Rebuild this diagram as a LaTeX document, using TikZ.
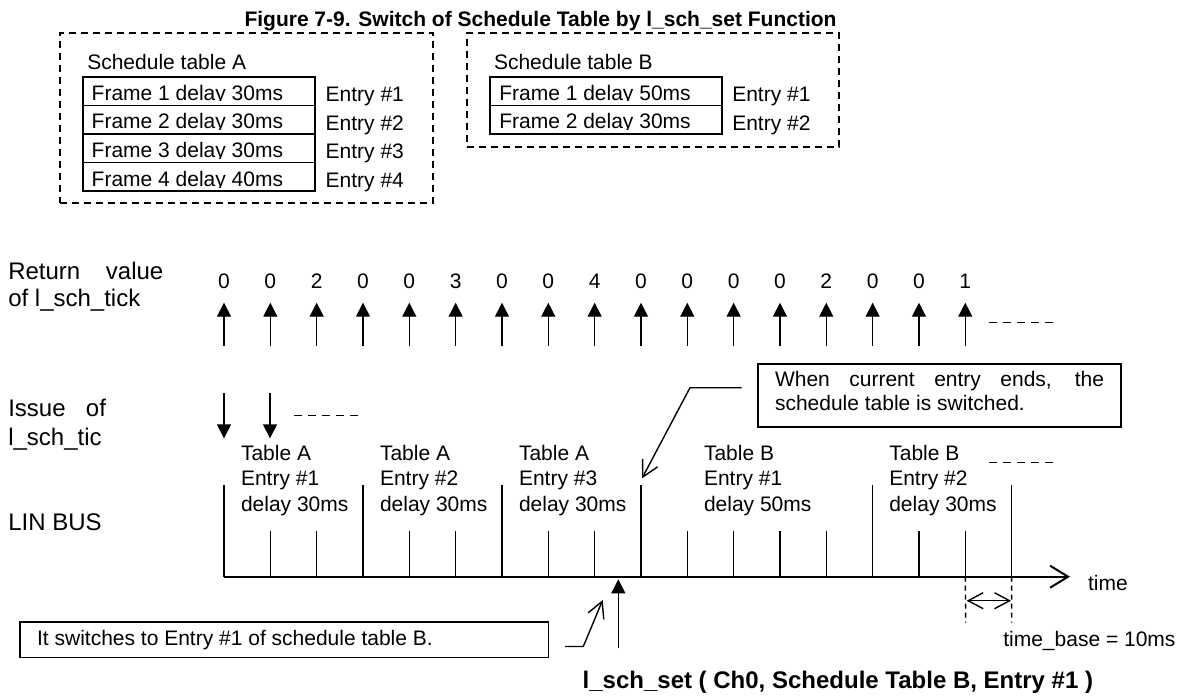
\documentclass[tikz,border=0pt]{standalone}
\usepackage{fontspec}
\setmainfont{Liberation Sans}
\usetikzlibrary{arrows.meta}
\begin{document}
\begin{tikzpicture}[x=1pt,y=-1pt,
  every node/.style={inner sep=0pt, outer sep=0pt},
  txt/.style={anchor=base west, font=\fontsize{21}{25}\selectfont},
  lbl/.style={anchor=base west, font=\fontsize{24}{27}\selectfont},
  dig/.style={anchor=base, font=\fontsize{21}{25}\selectfont},
  dbox/.style={draw, line width=1.8pt, dash pattern=on 7pt off 5pt, anchor=north west},
  cell/.style={draw, line width=1.8pt, anchor=north west, minimum height=28.5pt},
  sbox/.style={draw, line width=1.8pt, anchor=north west},
  thin/.style={line width=1.4pt},
  uparr/.style={line width=1.4pt, -{Triangle[length=14pt,width=14pt]}},
  barb/.style={line width=1.4pt, -{Straight Barb[length=16pt,width=17pt]}},
  dashln/.style={line width=1.4pt, dash pattern=on 8pt off 6pt},
]
\path[fill=white, use as bounding box] (0,0) rectangle (1185,699);

% title
\node[anchor=base, font=\bfseries\fontsize{21}{25}\selectfont] (title) at (540.5,26) {Figure 7-9. Switch of Schedule Table by l\_sch\_set Function};

% schedule table A
\node[dbox, minimum width=373pt, minimum height=170pt] (boxA) at (60,33) {};
\node[txt] (capA) at (87.3,69.3) {Schedule table A};
\node[cell, minimum width=232.3pt] (a1) at (82.7,77) {};
\node[cell, minimum width=232.3pt] (a2) at (82.7,105.5) {};
\node[cell, minimum width=232.3pt] (a3) at (82.7,134) {};
\node[cell, minimum width=232.3pt] (a4) at (82.7,162.5) {};
\begin{scope}\clip (82.7,77) rectangle (315,100.8);
 \node[txt] (fa1) at (91.7,100) {Frame 1 delay 30ms};\end{scope}
\begin{scope}\clip (82.7,105.5) rectangle (315,129.3);
 \node[txt] (fa2) at (91.7,128.5) {Frame 2 delay 30ms};\end{scope}
\begin{scope}\clip (82.7,134) rectangle (315,158.3);
 \node[txt] (fa3) at (91.7,157.5) {Frame 3 delay 30ms};\end{scope}
\begin{scope}\clip (82.7,162.5) rectangle (315,187.3);
 \node[txt] (fa4) at (91.7,186.5) {Frame 4 delay 40ms};\end{scope}
\node[txt] (ea1) at (325.7,101.7) {Entry \#1};
\node[txt] (ea2) at (325.7,130.7) {Entry \#2};
\node[txt] (ea3) at (325.7,158.3) {Entry \#3};
\node[txt] (ea4) at (325.7,187.7) {Entry \#4};

% schedule table B
\node[dbox, minimum width=372.3pt, minimum height=113.7pt] (boxB) at (466.7,33) {};
\node[txt] (capB) at (494,69.3) {Schedule table B};
\node[cell, minimum width=231.7pt] (b1) at (490,77) {};
\node[cell, minimum width=231.7pt] (b2) at (490,105.5) {};
\begin{scope}\clip (490,77) rectangle (721.7,100.8);
 \node[txt] (fb1) at (499.3,100) {Frame 1 delay 50ms};\end{scope}
\begin{scope}\clip (490,105.5) rectangle (721.7,129.1);
 \node[txt] (fb2) at (499.3,128.3) {Frame 2 delay 30ms};\end{scope}
\node[txt] (eb1) at (732.3,101.7) {Entry \#1};
\node[txt] (eb2) at (732.3,130.7) {Entry \#2};

% left labels
\node[lbl] (rv1) at (8.3,279.3) {\makebox[155pt][s]{Return value}};
\node[lbl] (rv2) at (8.3,306) {of l\_sch\_tick};
\node[lbl] (is1) at (8.3,416.7) {\makebox[97.7pt][s]{Issue of}};
\node[lbl] (is2) at (8.3,445) {l\_sch\_tic};
\node[lbl] (lin) at (8.3,530.5) {LIN BUS};

% return values and up arrows
\foreach \v [count=\i from 0] in {0,0,2,0,0,3,0,0,4,0,0,0,0,2,0,0,1} {
  \pgfmathsetmacro\xx{224+46.33*\i}
  \node[dig] (d\i) at (\xx,288.8) {\v};
  \coordinate (rb\i) at (\xx,346);
  \coordinate (rt\i) at (\xx,302.7);
  \draw[uparr] (rb\i) -- (rt\i);
}
\coordinate (rd1) at (989,322.7); \coordinate (rd2) at (1053,322.7);
\draw[dashln] (rd1) -- (rd2);

% issue arrows
\coordinate (ia1) at (224,392.7); \coordinate (ib1) at (224,438.3);
\coordinate (ia2) at (270,392.7); \coordinate (ib2) at (270,438.3);
\draw[uparr] (ia1) -- (ib1);
\draw[uparr] (ia2) -- (ib2);
\coordinate (id1) at (294,415.7); \coordinate (id2) at (358,415.7);
\draw[dashln] (id1) -- (id2);

% bus
\foreach \k in {0,...,17} {
  \pgfmathsetmacro\xx{224+46.33*\k}
  \coordinate (bb\k) at (\xx,576.7);
}
\foreach \k in {0,3,6,9,14,17} \draw[thin] (bb\k) -- ++(0,-91.7);
\foreach \k in {1,2,4,5,7,8,10,11,12,13,15,16} \draw[thin] (bb\k) -- ++(0,-45.7);
\coordinate (busend) at (1070,576.7);
\draw[line width=2pt, -{Straight Barb[length=18pt,width=22pt]}] (bb0) -- (busend);
\node[txt] (time) at (1088,590) {time};

% segment labels
\foreach \xp/\tn/\en/\dl [count=\s] in {241/A/1/30, 380/A/2/30, 519/A/3/30, 704/B/1/50, 889.3/B/2/30} {
  \node[txt] (tb\s) at (\xp,460) {Table \tn};
  \node[txt] (te\s) at (\xp,485.5) {Entry \#\en};
  \node[txt] (td\s) at (\xp,511) {delay \dl ms};
}
\coordinate (sd1) at (989.3,462.3); \coordinate (sd2) at (1053.3,462.3);
\draw[dashln] (sd1) -- (sd2);

% time base
\coordinate (tq1) at (965.7,622.7); \coordinate (tq2) at (1011.7,622.7);
\draw[line width=1.4pt, dash pattern=on 5pt off 4pt] (bb16) -- (tq1);
\draw[line width=1.4pt, dash pattern=on 5pt off 4pt] (bb17) -- (tq2);
\coordinate (ta1) at (966.7,600.7); \coordinate (ta2) at (1011,600.7);
\draw[line width=1.4pt, {Straight Barb[length=15pt,width=16pt]}-{Straight Barb[length=15pt,width=16pt]}] (ta1) -- (ta2);
\node[txt] (tbase) at (1003.3,646.7) {time\_base = 10ms};

% upper callout
\node[sbox, minimum width=363.3pt, minimum height=62.7pt] (ubox) at (757.7,364) {};
\node[txt] (ut1) at (775,386.7) {\makebox[329pt][s]{When current entry ends, the}};
\node[txt] (ut2) at (775,410.7) {schedule table is switched.};
\coordinate (c1a) at (741.7,387.7); \coordinate (c1b) at (690,387.7); \coordinate (c1c) at (642,478.3);
\draw[barb] (c1a) -- (c1b) -- (c1c);

% lower callout
\node[sbox, minimum width=528.4pt, minimum height=35.5pt] (lbox) at (20,622) {};
\node[txt] (lt) at (37.1,645) {It switches to Entry \#1 of schedule table B.};
\coordinate (c2a) at (565,646.5); \coordinate (c2b) at (583.3,646.5); \coordinate (c2c) at (602.7,600);
\draw[barb] (c2a) -- (c2b) -- (c2c);

% l_sch_set call
\coordinate (sa) at (618.3,648.3); \coordinate (sb) at (618.3,579.3);
\draw[uparr] (sa) -- (sb);
\node[anchor=base west, font=\bfseries\fontsize{24}{27}\selectfont] (setcall) at (582.7,688.3) {l\_sch\_set ( Ch0, Schedule Table B, Entry \#1 )};
\end{tikzpicture}
\end{document}
